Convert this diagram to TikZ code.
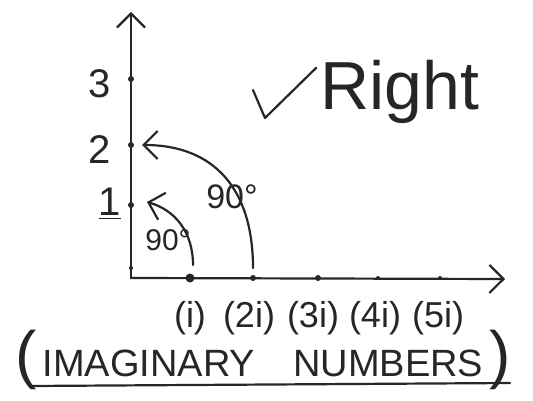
\documentclass[tikz,border=0pt]{standalone}
\usepackage{fontspec}
\setmainfont{Liberation Sans}
\usetikzlibrary{arrows.meta}
\begin{document}
\begin{tikzpicture}[x=0.5pt,y=-0.5pt,
  pen/.style={line width=1.1pt,draw=black!85,line cap=round,line join=round},
  tip/.style={-{Straight Barb[length=7pt,width=14pt,line width=1.1pt]}},
  dot/.style={circle,fill=black!85,inner sep=0pt,minimum size=3pt},
  lbl/.style={text=black!85,inner sep=0pt}]
\useasboundingbox (0,0) rectangle (533,400);
% axes
\coordinate (O) at (131,278);
\coordinate (ytop) at (131,12);
\coordinate (xend) at (505,279);
\draw[pen,tip] (O) -- (ytop);
\draw[pen,tip] (O) -- (xend);
% ticks on y
\node[dot] (y1) at (131,205) {};
\node[dot] (y2) at (131,145) {};
\node[dot] (y3) at (131,79) {};
\node[dot,minimum size=2pt] (y0) at (131,268) {};
% ticks on x
\node[dot,minimum size=4.5pt] (x1) at (190,278) {};
\node[dot] (x2) at (253,278) {};
\node[dot] (x3) at (318,278) {};
\node[dot,minimum size=2pt] (x4) at (378,278) {};
\node[dot,minimum size=2pt] (x5) at (440,278) {};
% y labels
\node[lbl,font=\fontsize{20}{20}\selectfont] (l3) at (100,84) {3};
\node[lbl,font=\fontsize{20}{20}\selectfont] (l2) at (100,150) {2};
\node[lbl,font=\fontsize{20}{20}\selectfont] (l1) at (110,204) {\underline{1}};
% x labels
\node[lbl,font=\fontsize{18}{18}\selectfont] (lx1) at (190,318) {(i)};
\node[lbl,font=\fontsize{18}{18}\selectfont] (lx2) at (249,318) {(2i)};
\node[lbl,font=\fontsize{18}{18}\selectfont] (lx3) at (313,318) {(3i)};
\node[lbl,font=\fontsize{18}{18}\selectfont] (lx4) at (375,318) {(4i)};
\node[lbl,font=\fontsize{18}{18}\selectfont] (lx5) at (438,318) {(5i)};
% rotation arcs
\coordinate (s1) at (193,265);
\coordinate (e1) at (147,202);
\draw[pen,tip] (s1) .. controls (193,232) and (175,210) .. (e1);
\coordinate (s2) at (253,268);
\coordinate (e2) at (142,145);
\draw[pen,tip] (s2) .. controls (253,190) and (215,145) .. (e2);
\node[lbl,font=\fontsize{15}{15}\selectfont] (a1) at (168,240) {90°};
\node[lbl,font=\fontsize{17}{17}\selectfont] (a2) at (232,197) {90°};
% check and Right
\coordinate (c1) at (253,90);
\coordinate (c2) at (265,118);
\coordinate (c3) at (316,68);
\draw[pen] (c1) -- (c2) -- (c3);
\node[lbl,font=\fontsize{34}{34}\selectfont,anchor=base west] (right) at (320,110) {Right};
% bottom caption
\node[lbl,font=\fontsize{19}{19}\selectfont] (cap) at (263,360) {{\fontsize{32}{32}\selectfont(}\,IMAGINARY\quad NUMBERS\,{\fontsize{32}{32}\selectfont)}};
\coordinate (u1) at (30,386);
\coordinate (u2) at (510,383);
\draw[pen] (u1) -- (u2);
\end{tikzpicture}
\end{document}
